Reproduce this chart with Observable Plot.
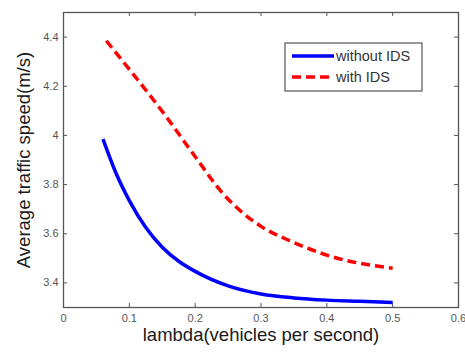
<!DOCTYPE html>
<html>
<head>
<meta charset="utf-8">
<script src="https://cdn.jsdelivr.net/npm/d3@7"></script>
<script src="https://cdn.jsdelivr.net/npm/@observablehq/plot@0.6"></script>
<style>
  body { margin: 0; background: #fff; }
  #chart { width: 465px; height: 352px; }
  #chart svg { font-family: "Liberation Sans", Arial, sans-serif; }
</style>
</head>
<body>
<div id="chart"></div>
<script>
// Average traffic speed against arrival rate, with and without IDS
const lambdaWithout = [0.06, 0.08, 0.10, 0.125, 0.15, 0.175, 0.20, 0.25, 0.30, 0.35, 0.40, 0.45, 0.50];
const speedWithout  = [3.985, 3.845, 3.735, 3.625, 3.545, 3.488, 3.447, 3.388, 3.355, 3.339, 3.33, 3.325, 3.32];
const lambdaWith    = [0.065, 0.105, 0.155, 0.205, 0.24, 0.27, 0.30, 0.345, 0.41, 0.50];
const speedWith     = [4.385, 4.252, 4.08, 3.895, 3.77, 3.69, 3.63, 3.57, 3.505, 3.46];
const seriesNames   = ["without IDS", "with IDS"];
const seriesColors  = ["#0000ff", "#ff0000"];
const seriesDashes  = [null, "9,5"];
const xTicks = [0, 0.1, 0.2, 0.3, 0.4, 0.5, 0.6];
const yTicks = [3.4, 3.6, 3.8, 4, 4.2, 4.4];
const xLabel = "lambda(vehicles per second)";
const yLabel = "Average traffic speed(m/s)";

const W = 465, H = 352;
const M = {top: 12, right: 7, bottom: 45, left: 63};
const innerW = W - M.left - M.right;
const innerH = H - M.top - M.bottom;
const tickLen = 4;
const axisGray = "#555";

const without = lambdaWithout.map((x, i) => ({x, y: speedWithout[i]}));
const withIds = lambdaWith.map((x, i) => ({x, y: speedWith[i]}));
const series = [without, withIds];

const plot = Plot.plot({
  width: W,
  height: H,
  marginTop: M.top,
  marginRight: M.right,
  marginBottom: M.bottom,
  marginLeft: M.left,
  style: {fontFamily: "Liberation Sans, Arial, sans-serif", background: "#fff"},
  x: {domain: [0, 0.6]},
  y: {domain: [3.3, 4.5]},
  marks: [
    // inward ticks on all four sides of the box
    Plot.tickX(xTicks, {x: d => d, insetTop: innerH - tickLen, stroke: axisGray}),
    Plot.tickX(xTicks, {x: d => d, insetBottom: innerH - tickLen, stroke: axisGray}),
    Plot.tickY(yTicks, {y: d => d, insetRight: innerW - tickLen, stroke: axisGray}),
    Plot.tickY(yTicks, {y: d => d, insetLeft: innerW - tickLen, stroke: axisGray}),
    Plot.axisX({ticks: xTicks, tickSize: 0, tickPadding: 7, tickFormat: d => String(d), label: null, fontSize: 11, fill: "#555"}),
    Plot.axisY({ticks: yTicks, tickSize: 0, tickPadding: 5, tickFormat: d => String(d), label: null, fontSize: 11, fill: "#555"}),
    ...series.map((s, i) => Plot.line(s, {
      x: "x", y: "y", curve: "monotone-x",
      stroke: seriesColors[i], strokeWidth: 3.5,
      strokeDasharray: seriesDashes[i] ?? undefined,
      strokeLinecap: "butt"
    })),
    Plot.frame({stroke: axisGray, strokeWidth: 1.3}),
    Plot.text([xLabel], {frameAnchor: "bottom", dy: 33, fontSize: 18.5, fill: "#1a1a1a"}),
    Plot.text([yLabel], {frameAnchor: "left", dx: -39, rotate: -90, textAnchor: "middle", fontSize: 18.5, fill: "#1a1a1a"})
  ]
});

document.getElementById("chart").appendChild(plot);

// legend box in the upper right of the axes
const svg = d3.select(plot);
const lg = svg.append("g").attr("transform", "translate(285,43)");
lg.append("rect")
  .attr("width", 137).attr("height", 48)
  .attr("fill", "#fff").attr("stroke", axisGray).attr("stroke-width", 1.2);
seriesNames.forEach((name, i) => {
  const cy = 13 + i * 21;
  lg.append("line")
    .attr("x1", 7).attr("x2", 49).attr("y1", cy).attr("y2", cy)
    .attr("stroke", seriesColors[i]).attr("stroke-width", 3.5)
    .attr("stroke-dasharray", seriesDashes[i]);
  lg.append("text")
    .attr("x", 51).attr("y", cy).attr("dy", "0.35em")
    .attr("text-anchor", "start")
    .attr("font-size", 14.5).attr("fill", "#333")
    .text(name);
});
</script>
</body>
</html>
